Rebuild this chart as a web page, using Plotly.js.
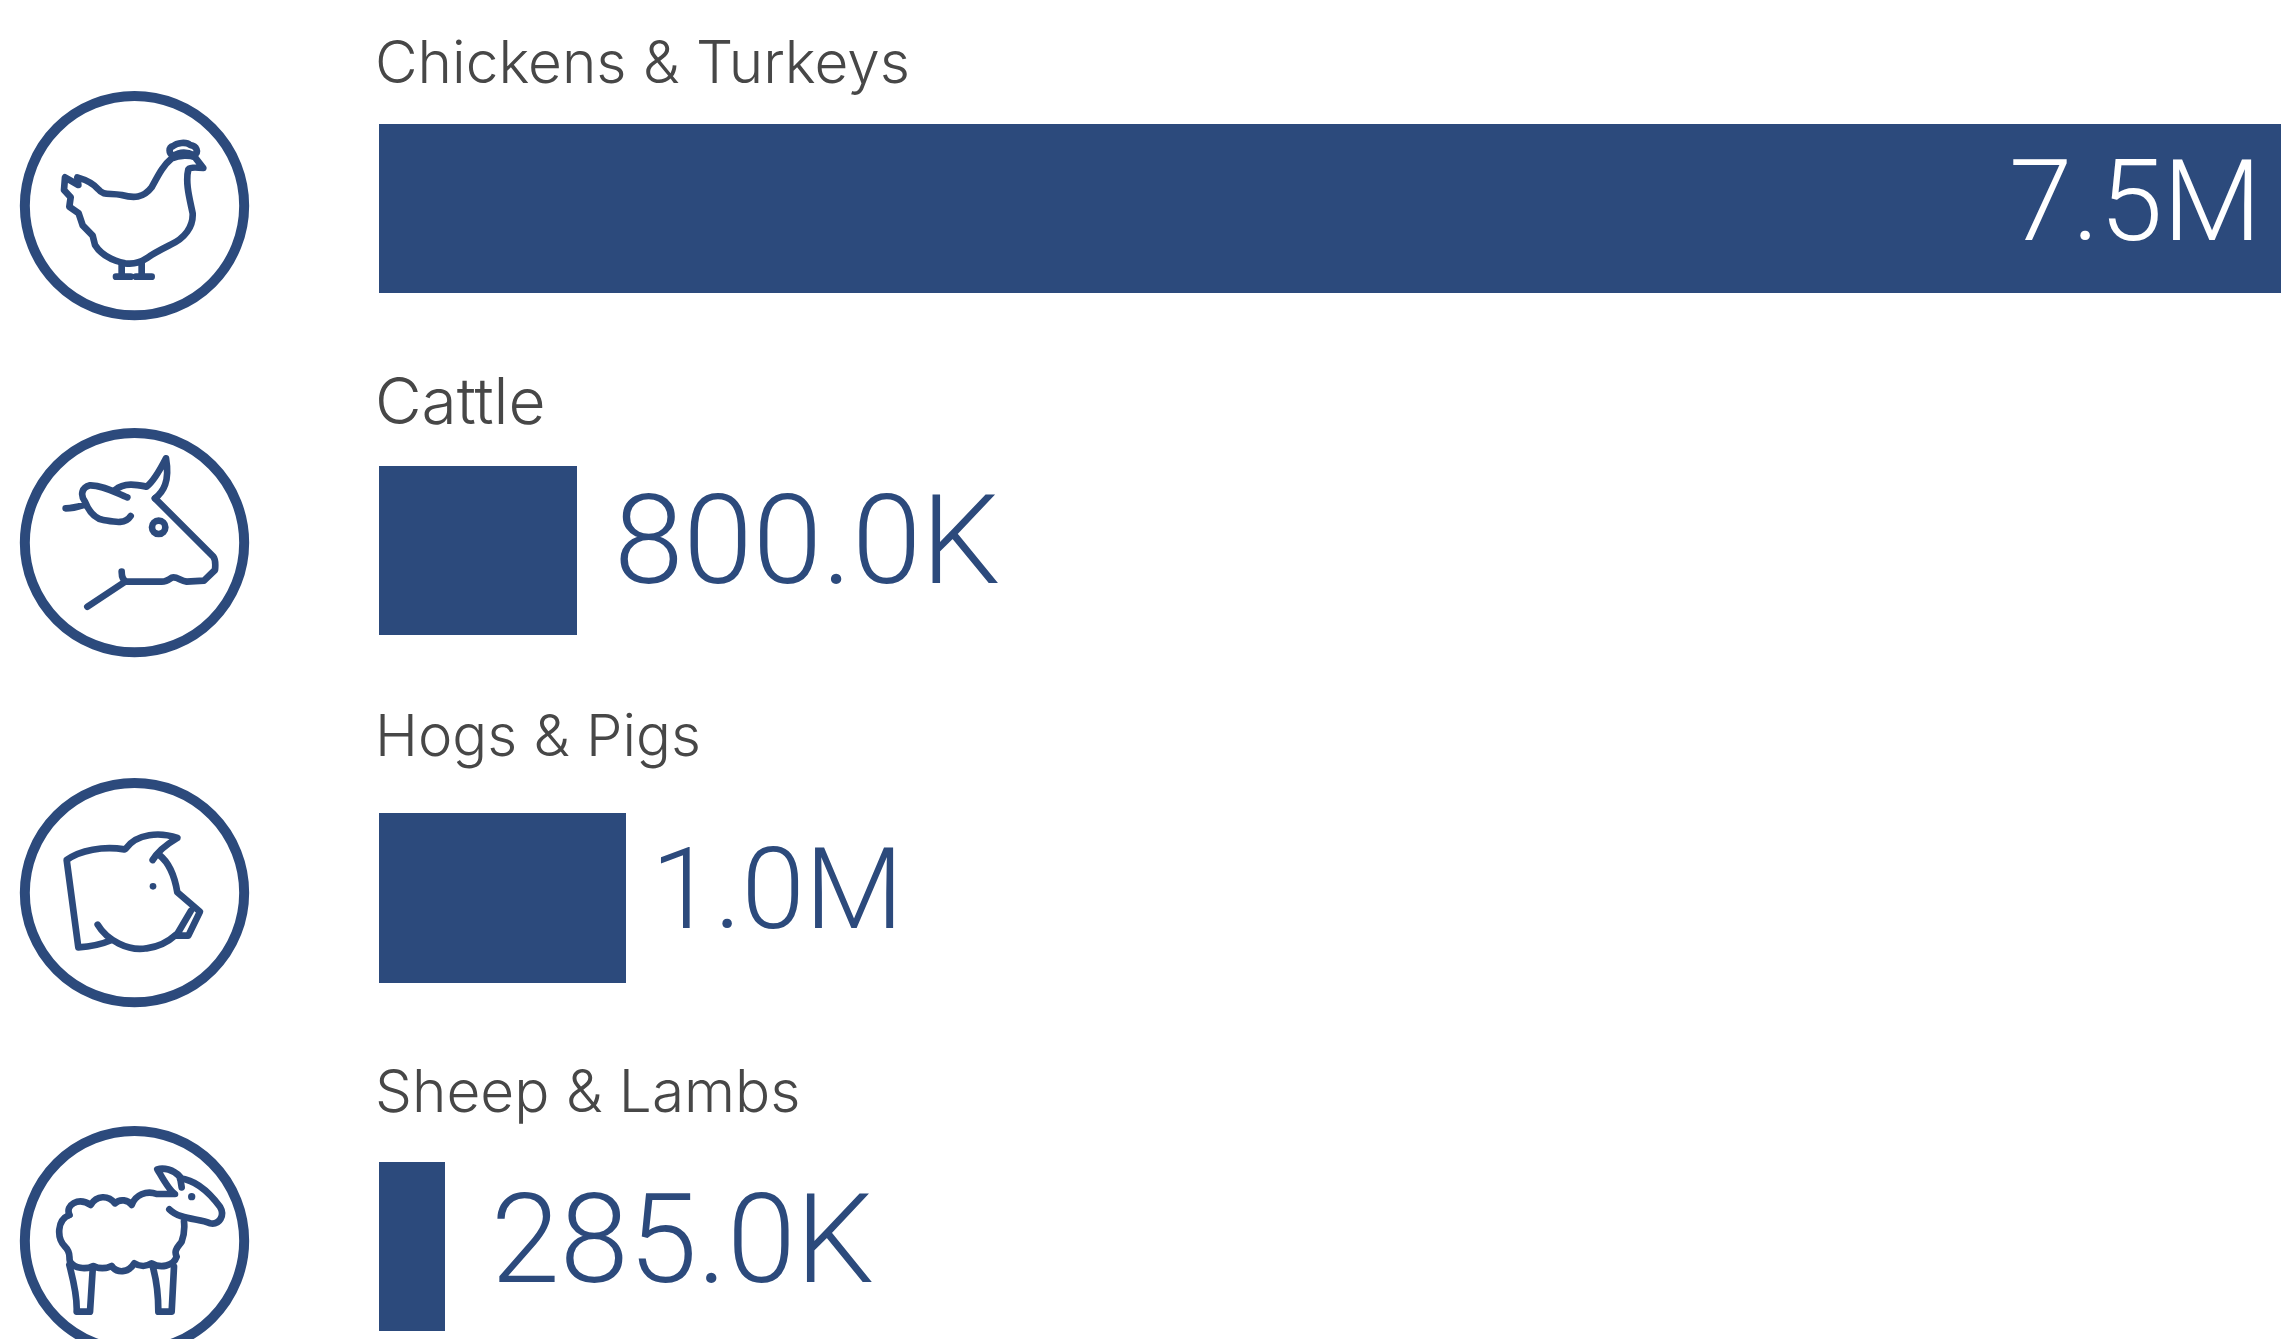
<!DOCTYPE html>
<html><head><meta charset="utf-8">
<script src="https://cdn.plot.ly/plotly-3.0.1.min.js"></script>
<style>html,body{margin:0;padding:0;background:#fff;overflow:hidden}</style>
</head><body><div id="chart" style="width:2281px;height:1339px"></div>
<script>
const categories = ["Chickens & Turkeys", "Cattle", "Hogs & Pigs", "Sheep & Lambs"];
const values = [7500000, 800000, 1000000, 285000];
const valueLabels = ["7.5M", "800.0K", "1.0M", "285.0K"];

const W = 2281, H = 1339, BLUE = "#2c4a7c", GREY = "#474747";
const FONT = "Inter, sans-serif", VALUE_FONT = "Roboto, sans-serif";
const barLeft = 379;
const rowTop = [124, 465.5, 813, 1161.5], rowBottom = [293, 635, 983, 1331];
const axisMax = [7500000, 7685000, 7716000, 8213000];
const labelMid = [61.5, 400, 735, 1090.5];
const labelSize = [58.5, 64, 58, 58.5];
const valueMid = [201, 541, 889, 1239];
const valueSize = [114, 125, 114, 124];
const valueShift = [-18, 35, 23, 44];
const iconTop = [70, 410, 760, 1110];

const icons = [
 `<path d="M195 322L192 360L212 382L208 410L236 430L248 466L278 497L285 525C300 550 330 570 375 580C395 583 415 582 440 565C460 550 490 535 510 525C555 505 580 470 578 430C570 390 555 340 565 298Q572 290 610 294L585 262C570 255 540 255 515 265C490 285 475 315 455 352C430 385 400 385 365 375C330 368 310 378 295 358C280 340 260 330 232 322L235 345Z"/>
  <path d="M520 258C505 250 505 232 520 228C530 218 560 215 570 225C590 228 598 245 582 256C560 245 540 245 520 258Z"/>
  <path d="M365 580V620M348 620H392M425 580V620M408 620H455"/>`,
 `<path d="M465 265L640 440Q648 450 645 480L612 512L560 515C540 512 530 498 515 503C505 510 495 515 485 515L380 515C365 510 365 495 365 485M375 515L262 590"/>
  <path d="M465 265C490 245 510 215 498 145C480 180 460 215 440 230C415 225 375 215 345 240"/>
  <path d="M382 262C350 250 310 225 270 226C245 232 240 255 255 275C265 300 280 325 310 330C340 335 375 345 392 318M197 295C215 295 235 290 250 285"/>
  <circle cx="476" cy="352" r="20"/>`,
 `<path d="M373 268C310 258 240 270 200 300L235 562C270 560 300 555 335 540"/>
  <path d="M378 265C410 220 480 215 532 234C505 250 475 270 458 300"/>
  <path d="M478 285C510 310 525 355 532 397L600 455L565 527L527 527M573 452L530 525"/>
  <path d="M293 494C320 540 385 575 440 565C480 560 505 545 527 525"/>
  <circle cx="459" cy="379" r="10" fill="${BLUE}" stroke="none"/>`,
 `<path d="M208 315C195 285 235 260 272 285C290 255 325 255 345 280C360 265 385 270 395 285C405 255 440 240 470 252L525 252C505 240 480 190 472 178C490 172 520 178 540 200L545 232"/>
  <path d="M208 315C170 330 170 385 195 410C215 430 205 440 210 455C225 475 255 480 280 468C300 478 320 475 335 468C350 490 385 490 403 460C420 470 440 470 455 460C480 475 520 470 530 440C520 420 535 410 545 395C552 375 555 360 552 335"/>
  <path d="M540 205C590 210 630 250 660 290C675 315 660 345 630 340C600 325 540 330 508 298"/>
  <circle cx="575" cy="260" r="11" fill="${BLUE}" stroke="none"/>
  <path d="M208 465C220 510 232 560 230 605L270 605L278 480M458 470C470 510 475 560 475 605L515 605L522 470"/>`
];

function iconUri(body) {
  const svg = `<svg xmlns="http://www.w3.org/2000/svg" viewBox="0 0 810 810" width="810" height="810">
   <g fill="none" stroke="${BLUE}" stroke-linecap="round" stroke-linejoin="round" stroke-width="20">
   <circle cx="403.5" cy="ICY" r="329" stroke-width="30"/>${body}</g></svg>`;
  return "data:image/svg+xml;charset=utf-8," + encodeURIComponent(svg);
}
const circleCy = [407, 398, 398, 392];

const data = [], annotations = [], images = [];
const layout = {
  width: W, height: H, margin: {l:0, r:0, t:0, b:0, pad:0},
  paper_bgcolor: "#fff", plot_bgcolor: "rgba(0,0,0,0)",
  showlegend: false, bargap: 0, font: {family: FONT}
};

categories.forEach((cat, i) => {
  const n = i === 0 ? "" : String(i + 1);
  data.push({
    type: "bar", orientation: "h", y: [cat], x: [values[i]],
    xaxis: "x" + n, yaxis: "y" + n,
    marker: {color: BLUE, line: {width: 0}}, hoverinfo: "none"
  });
  layout["xaxis" + n] = {domain: [barLeft / W, 1], range: [0, axisMax[i]], visible: false, fixedrange: true, anchor: "y" + n};
  layout["yaxis" + n] = {domain: [1 - rowBottom[i] / H, 1 - rowTop[i] / H], type: "category", range: [-0.5, 0.5], visible: false, fixedrange: true, anchor: "x" + n};
  annotations.push({
    text: cat, showarrow: false, xref: "paper", yref: "paper",
    x: 373 / W, y: 1 - labelMid[i] / H, xanchor: "left", yanchor: "middle",
    font: {family: FONT, size: labelSize[i], color: GREY, weight: 300}
  });
  annotations.push({
    text: valueLabels[i], showarrow: false, xref: "x" + n, yref: "paper",
    x: values[i], xshift: valueShift[i], y: 1 - valueMid[i] / H,
    xanchor: i === 0 ? "right" : "left", yanchor: "middle",
    font: {family: VALUE_FONT, size: valueSize[i], color: i === 0 ? "#fff" : BLUE, weight: 300}
  });
  images.push({
    source: iconUri(icons[i]).replace("ICY", circleCy[i]),
    xref: "paper", yref: "paper", x: 0, y: 1 - iconTop[i] / H,
    sizex: 270 / W, sizey: 270 / H, xanchor: "left", yanchor: "top",
    sizing: "stretch", layer: "above"
  });
});
layout.annotations = annotations;
layout.images = images;
Plotly.newPlot("chart", data, layout, {displayModeBar: false, staticPlot: true});
</script></body></html>
